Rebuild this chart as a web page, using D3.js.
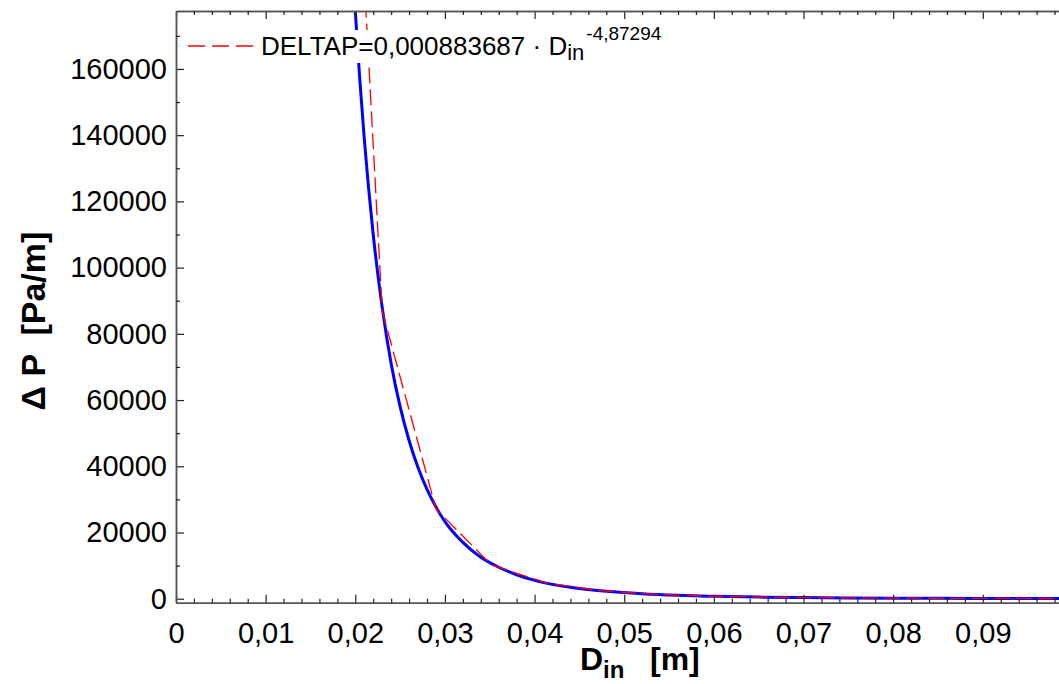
<!DOCTYPE html>
<html>
<head>
<meta charset="utf-8">
<script src="https://cdn.jsdelivr.net/npm/d3@7"></script>
<style>
  body { margin: 0; background: #fff; }
  svg { display: block; font-family: "Liberation Sans", Arial, sans-serif; }
</style>
</head>
<body>
<svg id="chart" width="1059" height="684"></svg>
<script>
var dinMeasured = [0.0195, 0.0200, 0.0210, 0.0220, 0.0230, 0.0240, 0.0250, 0.0260, 0.0270, 0.0280,
    0.0290, 0.0300, 0.0320, 0.0340, 0.0360, 0.0380, 0.0400, 0.0440, 0.0480, 0.0520,
    0.0560, 0.0600, 0.0650, 0.0700, 0.0750, 0.0800, 0.0850, 0.0900, 0.0950, 0.1000];
var dpMeasured = [201500, 177500, 139000, 110000, 88000, 71000, 58000, 47800, 39600, 33000,
    27700, 23300, 17000, 12500, 9500, 7250, 5550, 3450, 2250, 1500,
    1030, 730, 490, 340, 240, 175, 130, 95, 72, 55];

// fitted curve (red dashed), drawn point to point
var dinFit = [0.0210, 0.0230, 0.0290, 0.0352, 0.0414, 0.0476, 0.0538, 0.0600, 0.0700, 0.0800, 0.0900, 0.1000];
var dpFit = [187000, 87000, 27100, 10200, 4700, 2350, 1280, 750, 350, 180, 100, 60];

var xTicks = [0, 0.01, 0.02, 0.03, 0.04, 0.05, 0.06, 0.07, 0.08, 0.09];
var yTicks = [0, 20000, 40000, 60000, 80000, 100000, 120000, 140000, 160000];

var svg = d3.select("#chart");
var plotLeft = 176, plotRight = 1059, plotTop = 11, plotBottom = 602.7;

var x = d3.scaleLinear().domain([0, 0.0985]).range([plotLeft, plotRight]);
var y = d3.scaleLinear().domain([-1200, 177500]).range([plotBottom, plotTop]);

var xMinor = d3.range(0, 0.0985, 0.002).filter(v => Math.abs(v * 100 - Math.round(v * 100)) > 1e-6);
var yMinor = d3.range(10000, 177500, 20000);

svg.append("clipPath").attr("id", "plot-clip")
    .append("rect")
    .attr("x", plotLeft).attr("y", plotTop)
    .attr("width", plotRight - plotLeft).attr("height", plotBottom - plotTop);

function commaFmt(d) {
    if (d === 0) return "0";
    return d3.format(".2f")(d).replace(".", ",");
}

// curves
var line = d3.line().x(d => x(d[0])).y(d => y(d[1]));
var plot = svg.append("g").attr("clip-path", "url(#plot-clip)");

plot.append("path")
    .datum(d3.zip(dinMeasured, dpMeasured))
    .attr("d", line.curve(d3.curveMonotoneX))
    .attr("fill", "none")
    .attr("stroke", "#0000ff")
    .attr("stroke-width", 3);

plot.append("path")
    .datum(d3.zip(dinFit, dpFit))
    .attr("d", line.curve(d3.curveLinear))
    .attr("fill", "none")
    .attr("stroke", "#ff0000")
    .attr("stroke-width", 1.3)
    .attr("stroke-dasharray", "16,6");

// bottom axis
svg.append("g")
    .attr("transform", `translate(0,${plotBottom})`)
    .call(d3.axisBottom(x).tickValues(xTicks).tickSizeInner(-8).tickSizeOuter(0)
        .tickPadding(19.8).tickFormat(commaFmt));
svg.append("g")
    .attr("transform", `translate(0,${plotBottom})`)
    .call(d3.axisBottom(x).tickValues(xMinor).tickSizeInner(-4).tickSizeOuter(0).tickFormat(""));

// top axis (no labels)
svg.append("g")
    .attr("transform", `translate(0,${plotTop})`)
    .call(d3.axisTop(x).tickValues(xTicks).tickSizeInner(-8).tickSizeOuter(0).tickFormat(""));
svg.append("g")
    .attr("transform", `translate(0,${plotTop})`)
    .call(d3.axisTop(x).tickValues(xMinor).tickSizeInner(-4).tickSizeOuter(0).tickFormat(""));

// left axis
svg.append("g")
    .attr("transform", `translate(${plotLeft},0)`)
    .call(d3.axisLeft(y).tickValues(yTicks).tickSizeInner(-8).tickSizeOuter(0)
        .tickPadding(9).tickFormat(d3.format("d")));
svg.append("g")
    .attr("transform", `translate(${plotLeft},0)`)
    .call(d3.axisLeft(y).tickValues(yMinor).tickSizeInner(-4).tickSizeOuter(0).tickFormat(""));

svg.selectAll(".domain").attr("stroke", "#555").attr("stroke-width", 1.5);
svg.selectAll(".tick line").attr("stroke", "#222").attr("stroke-width", 1.2);
svg.selectAll(".tick text")
    .attr("font-family", "'Liberation Sans', Arial, sans-serif")
    .attr("font-size", 29)
    .attr("fill", "#000");

// legend (white box behind the text hides the curves)
svg.append("rect")
    .attr("x", 258).attr("y", 30)
    .attr("width", 410).attr("height", 33)
    .attr("fill", "#fff");

svg.append("line")
    .attr("x1", 188).attr("x2", 255)
    .attr("y1", 46).attr("y2", 46)
    .attr("stroke", "#ff0000")
    .attr("stroke-width", 1.3)
    .attr("stroke-dasharray", "17,7");

var leg = svg.append("text")
    .attr("x", 261).attr("y", 55)
    .attr("font-size", 26)
    .attr("fill", "#000");
leg.append("tspan").text("DELTAP=0,000883687 \u00b7 D");
leg.append("tspan").attr("font-size", 22).attr("dy", 5).text("in");
leg.append("tspan").attr("font-size", 19).attr("dy", -20).attr("dx", 2).text("-4,87294");

// axis titles
var xt = svg.append("text")
    .attr("x", 580).attr("y", 670)
    .attr("font-size", 32)
    .attr("font-weight", "bold")
    .attr("fill", "#000");
xt.append("tspan").text("D");
xt.append("tspan").attr("font-size", 24).attr("dy", 8).text("in");
xt.append("tspan").attr("dy", -8).attr("x", 650).text("[m]");

svg.append("text")
    .attr("transform", "translate(45,321) rotate(-90)")
    .attr("text-anchor", "middle")
    .attr("font-size", 34)
    .attr("font-weight", "bold")
    .attr("fill", "#000")
    .attr("xml:space", "preserve")
    .style("white-space", "pre")
    .text("\u0394 P  [Pa/m]");
</script>
</body>
</html>
